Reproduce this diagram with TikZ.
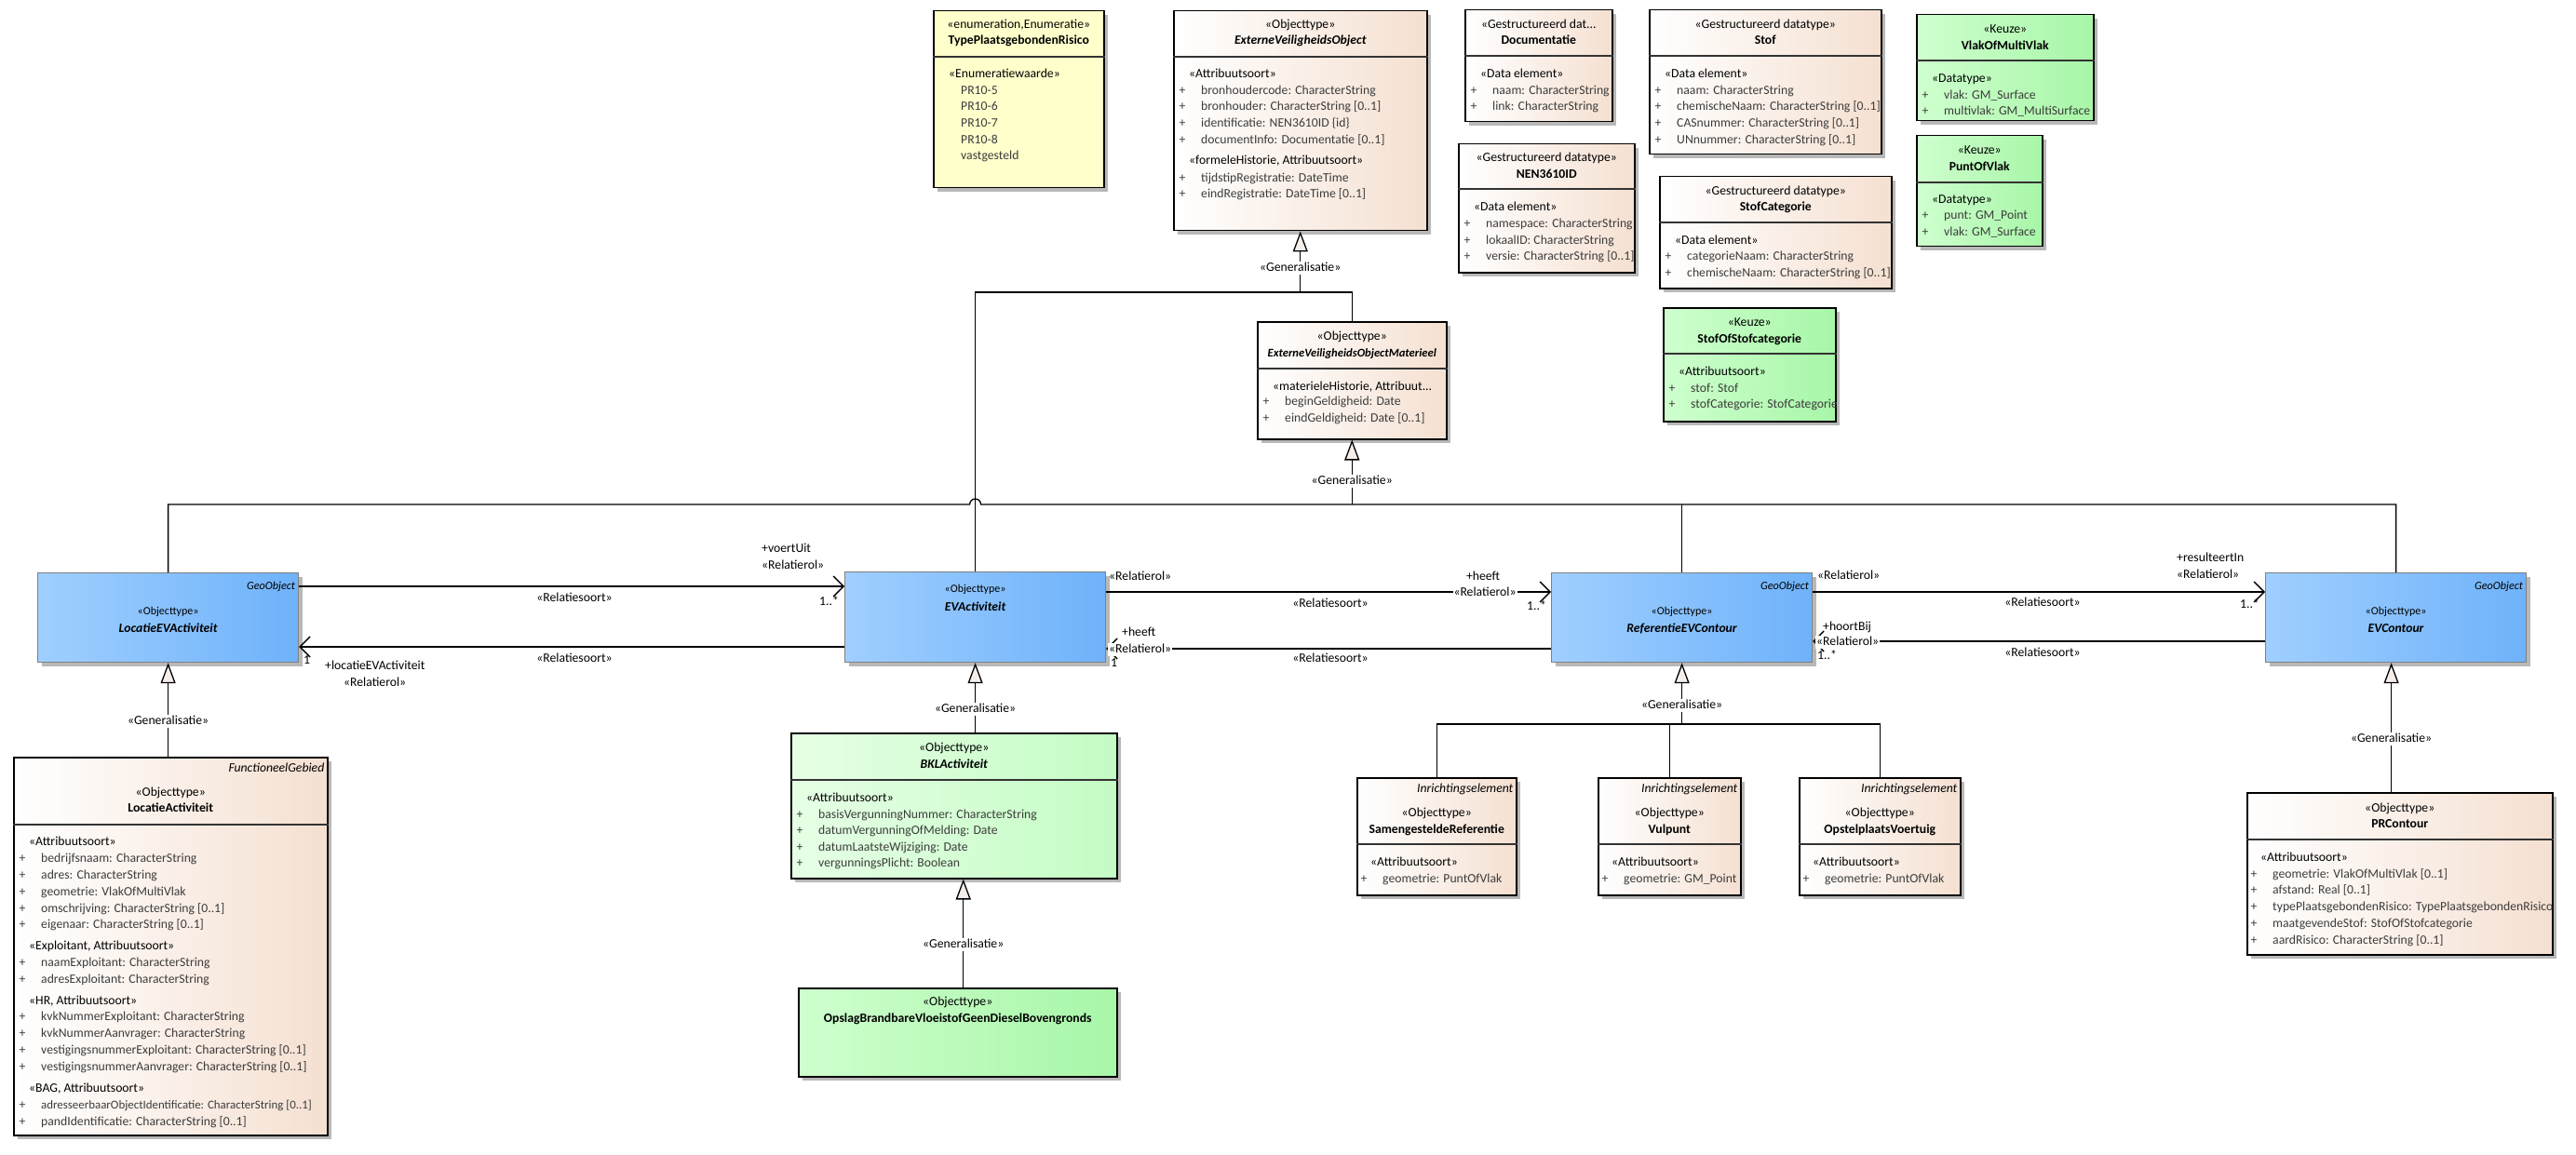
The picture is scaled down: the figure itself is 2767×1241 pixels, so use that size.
\documentclass[tikz,border=0pt]{standalone}
\usepackage{fontspec}
\setmainfont{Carlito}
\usetikzlibrary{arrows.meta,calc,shadows}
\definecolor{peach}{RGB}{245,224,209}
\definecolor{yel}{RGB}{255,255,204}
\definecolor{gL}{RGB}{206,255,206}
\definecolor{gR}{RGB}{168,246,168}
\definecolor{bgL}{RGB}{230,255,230}
\definecolor{bgR}{RGB}{196,252,196}
\definecolor{bL}{RGB}{160,207,255}
\definecolor{bR}{RGB}{110,178,250}
\definecolor{trifill}{RGB}{246,238,234}
\definecolor{attc}{RGB}{60,60,60}
\newcommand\fs{\fontsize{13.7}{16}\selectfont}
\newcommand\fsb{\fontsize{12}{14}\selectfont}
\newcommand\fsn{\fontsize{13.7}{16}\selectfont}
\tikzset{
 base/.style={draw=black, line width=1.5pt, inner sep=0pt, drop shadow={shadow xshift=4pt, shadow yshift=-4pt, fill=black!28, opacity=1}},
 beige/.style={base, left color=white, right color=peach},
 yellowbox/.style={base, fill=yel},
 greenbox/.style={base, left color=gL, right color=gR},
 lgreenbox/.style={base, left color=bgL, right color=bgR},
 bluebox/.style={base, draw=black!50, line width=1.2pt, left color=bL, right color=bR},
 tx/.style={inner sep=0pt, text height=9.5pt, text depth=2.5pt, font=\fs},
 txb/.style={tx, font=\fsb},
 nm/.style={tx, font=\fs\bfseries},
 nmi/.style={tx, font=\fs\bfseries\itshape},
 nmb/.style={tx, font=\fsn\bfseries\itshape},
 geo/.style={tx, font=\fontsize{12.2}{14}\selectfont\itshape, anchor=east},
 inr/.style={tx, font=\fs\itshape, anchor=east},
 atr/.style={tx, text=attc, anchor=west},
 sst/.style={tx, anchor=west},
 hl/.style={line width=1.2pt, draw=black!80},
 conn/.style={line width=1.3pt},
 gen/.style={conn, -{Triangle[length=22pt,width=16pt,fill=trifill]}},
 nav/.style={conn, -{Straight Barb[length=11pt,width=22pt]}},
 wl/.style={tx, fill=white, inner sep=1pt},
 lw/.style={tx, anchor=west},
}
\newcommand\umlbox[6]{\node[#2, minimum width=#5pt, minimum height=#6pt, anchor=north west] (#1) at (#3,#4) {};}
\newcommand\umlhl[2]{\draw[hl] (#1.west |- 0,#2) -- (#1.east |- 0,#2);}
\newcommand\umlattr[3]{\node[tx,text=attc] at (#1+10,#2) {+}; \node[atr] at (#1+30,#2) {#3};}
\newcommand\umlsec[3]{\node[sst] at (#1+17,#2) {#3};}
\begin{document}
\begin{tikzpicture}[x=1pt,y=-1pt]
\fill[white] (0,0) rectangle (2767,1241);
\useasboundingbox (0,0) rectangle (2767,1241);

% ---------- TypePlaatsgebondenRisico
\umlbox{tpr}{yellowbox}{1002}{11}{183}{190}
\umlhl{tpr}{61}
\node[tx] at (tpr.north |- 0,27) {«enumeration,Enumeratie»};
\node[nm] at (tpr.north |- 0,44) {TypePlaatsgebondenRisico};
\umlsec{1002}{80}{«Enumeratiewaarde»}
\node[atr] at (1032,98) {PR10-5};
\node[atr] at (1032,115) {PR10-6};
\node[atr] at (1032,133) {PR10-7};
\node[atr] at (1032,151) {PR10-8};
\node[atr] at (1032,168) {vastgesteld};

% ---------- ExterneVeiligheidsObject
\umlbox{evo}{beige}{1260}{11}{272}{236}
\umlhl{evo}{61}
\node[tx] at (evo.north |- 0,27) {«Objecttype»};
\node[nmi] at (evo.north |- 0,44) {ExterneVeiligheidsObject};
\umlsec{1260}{80}{«Attribuutsoort»}
\umlattr{1260}{98}{bronhoudercode: CharacterString}
\umlattr{1260}{115}{bronhouder: CharacterString [0..1]}
\umlattr{1260}{133}{identificatie: NEN3610ID \{id\}}
\umlattr{1260}{151}{documentInfo: Documentatie [0..1]}
\umlsec{1260}{173}{«formeleHistorie, Attribuutsoort»}
\umlattr{1260}{192}{tijdstipRegistratie: DateTime}
\umlattr{1260}{209}{eindRegistratie: DateTime [0..1]}

% ---------- Documentatie
\umlbox{doc}{beige}{1573}{10}{158}{120}
\umlhl{doc}{60}
\node[tx] at (doc.north |- 0,27) {«Gestructureerd dat...};
\node[nm] at (doc.north |- 0,44) {Documentatie};
\umlsec{1573}{80}{«Data element»}
\umlattr{1573}{98}{naam: CharacterString}
\umlattr{1573}{115}{link: CharacterString}

% ---------- Stof
\umlbox{stof}{beige}{1771}{10}{249}{155}
\umlhl{stof}{60}
\node[tx] at (stof.north |- 0,27) {«Gestructureerd datatype»};
\node[nm] at (stof.north |- 0,44) {Stof};
\umlsec{1771}{80}{«Data element»}
\umlattr{1771}{98}{naam: CharacterString}
\umlattr{1771}{115}{chemischeNaam: CharacterString [0..1]}
\umlattr{1771}{133}{CASnummer: CharacterString [0..1]}
\umlattr{1771}{151}{UNnummer: CharacterString [0..1]}

% ---------- NEN3610ID
\umlbox{nen}{beige}{1566}{154}{189}{138}
\umlhl{nen}{203}
\node[tx] at (nen.north |- 0,170) {«Gestructureerd datatype»};
\node[nm] at (nen.north |- 0,188) {NEN3610ID};
\umlsec{1566}{223}{«Data element»}
\umlattr{1566}{241}{namespace: CharacterString}
\umlattr{1566}{259}{lokaalID: CharacterString}
\umlattr{1566}{276}{versie: CharacterString [0..1]}

% ---------- StofCategorie
\umlbox{stc}{beige}{1782}{189}{249}{120}
\umlhl{stc}{239}
\node[tx] at (stc.north |- 0,206) {«Gestructureerd datatype»};
\node[nm] at (stc.north |- 0,223) {StofCategorie};
\umlsec{1782}{259}{«Data element»}
\umlattr{1782}{276}{categorieNaam: CharacterString}
\umlattr{1782}{294}{chemischeNaam: CharacterString [0..1]}

% ---------- VlakOfMultiVlak
\umlbox{vmv}{greenbox}{2058}{15}{190}{114}
\umlhl{vmv}{65}
\node[tx] at (vmv.north |- 0,32) {«Keuze»};
\node[nm] at (vmv.north |- 0,50) {VlakOfMultiVlak};
\umlsec{2058}{85}{«Datatype»}
\begin{scope}
\clip (vmv.north west) rectangle (vmv.south east);
\umlattr{2058}{103}{vlak: GM\_Surface}
\umlattr{2058}{120}{multivlak: GM\_MultiSurface}
\end{scope}

% ---------- PuntOfVlak
\umlbox{pov}{greenbox}{2058}{145}{135}{119}
\umlhl{pov}{196}
\node[tx] at (pov.north |- 0,162) {«Keuze»};
\node[nm] at (pov.north |- 0,180) {PuntOfVlak};
\umlsec{2058}{215}{«Datatype»}
\umlattr{2058}{232}{punt: GM\_Point}
\umlattr{2058}{250}{vlak: GM\_Surface}

% ---------- StofOfStofcategorie
\umlbox{ssc}{greenbox}{1786}{330}{185}{122}
\umlhl{ssc}{380}
\node[tx] at (ssc.north |- 0,347) {«Keuze»};
\node[nm] at (ssc.north |- 0,365) {StofOfStofcategorie};
\umlsec{1786}{400}{«Attribuutsoort»}
\begin{scope}
\clip (ssc.north west) rectangle (ssc.south east);
\umlattr{1786}{418}{stof: Stof}
\umlattr{1786}{435}{stofCategorie: StofCategorie}
\end{scope}

% ---------- ExterneVeiligheidsObjectMaterieel
\umlbox{evom}{beige}{1350}{345}{203}{126}
\umlhl{evom}{396}
\node[tx] at (evom.north |- 0,362) {«Objecttype»};
\node[tx, font=\fontsize{12.6}{14}\selectfont\bfseries\itshape] at (evom.north |- 0,380) {ExterneVeiligheidsObjectMaterieel};
\umlsec{1350}{416}{«materieleHistorie, Attribuut...}
\umlattr{1350}{432}{beginGeldigheid: Date}
\umlattr{1350}{450}{eindGeldigheid: Date [0..1]}

% ---------- blue boxes
\umlbox{lev}{bluebox}{40}{615}{280}{96}
\node[geo] at ($(lev.north east)+(-4,15)$) {GeoObject};
\node[txb] at (lev.north |- 0,657) {«Objecttype»};
\node[nmb] at (lev.north |- 0,676) {LocatieEVActiviteit};

\umlbox{eva}{bluebox}{907}{614}{280}{97}
\node[txb] at (eva.north |- 0,633) {«Objecttype»};
\node[nmb] at (eva.north |- 0,653) {EVActiviteit};

\umlbox{ref}{bluebox}{1666}{615}{280}{96}
\node[geo] at ($(ref.north east)+(-4,15)$) {GeoObject};
\node[txb] at (ref.north |- 0,657) {«Objecttype»};
\node[nmb] at (ref.north |- 0,676) {ReferentieEVContour};

\umlbox{evc}{bluebox}{2433}{615}{280}{96}
\node[geo] at ($(evc.north east)+(-4,15)$) {GeoObject};
\node[txb] at (evc.north |- 0,657) {«Objecttype»};
\node[nmb] at (evc.north |- 0,676) {EVContour};

% ---------- LocatieActiviteit
\umlbox{la}{beige}{14}{813}{337}{406}
\umlhl{la}{886}
\node[inr] at ($(la.north east)+(-4,13)$) {FunctioneelGebied};
\node[tx] at (la.north |- 0,852) {«Objecttype»};
\node[nm] at (la.north |- 0,869) {LocatieActiviteit};
\umlsec{14}{905}{«Attribuutsoort»}
\umlattr{14}{923}{bedrijfsnaam: CharacterString}
\umlattr{14}{941}{adres: CharacterString}
\umlattr{14}{959}{geometrie: VlakOfMultiVlak}
\umlattr{14}{977}{omschrijving: CharacterString [0..1]}
\umlattr{14}{994}{eigenaar: CharacterString [0..1]}
\umlsec{14}{1017}{«Exploitant, Attribuutsoort»}
\umlattr{14}{1035}{naamExploitant: CharacterString}
\umlattr{14}{1053}{adresExploitant: CharacterString}
\umlsec{14}{1076}{«HR, Attribuutsoort»}
\umlattr{14}{1093}{kvkNummerExploitant: CharacterString}
\umlattr{14}{1111}{kvkNummerAanvrager: CharacterString}
\umlattr{14}{1129}{vestigingsnummerExploitant: CharacterString [0..1]}
\umlattr{14}{1147}{vestigingsnummerAanvrager: CharacterString [0..1]}
\umlsec{14}{1170}{«BAG, Attribuutsoort»}
\node[tx,text=attc] at (24,1188) {+};
\node[atr, font=\fontsize{12.9}{15}\selectfont] at (44,1188) {adresseerbaarObjectIdentificatie: CharacterString [0..1]};
\umlattr{14}{1206}{pandIdentificatie: CharacterString [0..1]}

% ---------- BKLActiviteit
\umlbox{bkl}{lgreenbox}{849}{787}{350}{156}
\umlhl{bkl}{838}
\node[tx] at (bkl.north |- 0,804) {«Objecttype»};
\node[nmi] at (bkl.north |- 0,822) {BKLActiviteit};
\umlsec{849}{858}{«Attribuutsoort»}
\umlattr{849}{876}{basisVergunningNummer: CharacterString}
\umlattr{849}{893}{datumVergunningOfMelding: Date}
\umlattr{849}{911}{datumLaatsteWijziging: Date}
\umlattr{849}{928}{vergunningsPlicht: Boolean}

% ---------- Opslag
\umlbox{ops}{greenbox}{857}{1061}{342}{95}
\node[tx] at (ops.north |- 0,1077) {«Objecttype»};
\node[nm] at (ops.north |- 0,1095) {OpslagBrandbareVloeistofGeenDieselBovengronds};

% ---------- Inrichtingselementen
\umlbox{sam}{beige}{1457}{835}{171}{126}
\umlhl{sam}{907}
\node[inr] at ($(sam.north east)+(-4,13)$) {Inrichtingselement};
\node[tx] at (sam.north |- 0,874) {«Objecttype»};
\node[nm] at (sam.north |- 0,892) {SamengesteldeReferentie};
\umlsec{1455}{927}{«Attribuutsoort»}
\umlattr{1455}{945}{geometrie: PuntOfVlak}

\umlbox{vul}{beige}{1716}{835}{153}{126}
\umlhl{vul}{907}
\node[inr] at ($(vul.north east)+(-4,13)$) {Inrichtingselement};
\node[tx] at (vul.north |- 0,874) {«Objecttype»};
\node[nm] at (vul.north |- 0,892) {Vulpunt};
\umlsec{1714}{927}{«Attribuutsoort»}
\umlattr{1714}{945}{geometrie: GM\_Point}

\umlbox{opv}{beige}{1932}{835}{173}{126}
\umlhl{opv}{907}
\node[inr] at ($(opv.north east)+(-4,13)$) {Inrichtingselement};
\node[tx] at (opv.north |- 0,874) {«Objecttype»};
\node[nm] at (opv.north |- 0,892) {OpstelplaatsVoertuig};
\umlsec{1930}{927}{«Attribuutsoort»}
\umlattr{1930}{945}{geometrie: PuntOfVlak}

% ---------- PRContour
\umlbox{prc}{beige}{2413}{851}{328}{174}
\umlhl{prc}{902}
\node[tx] at (prc.north |- 0,869) {«Objecttype»};
\node[nm] at (prc.north |- 0,886) {PRContour};
\umlsec{2411}{922}{«Attribuutsoort»}
\begin{scope}
\clip (prc.north west) rectangle (prc.south east);
\umlattr{2411}{940}{geometrie: VlakOfMultiVlak [0..1]}
\umlattr{2411}{957}{afstand: Real [0..1]}
\umlattr{2411}{975}{typePlaatsgebondenRisico: TypePlaatsgebondenRisico}
\umlattr{2411}{993}{maatgevendeStof: StofOfStofcategorie}
\umlattr{2411}{1011}{aardRisico: CharacterString [0..1]}
\end{scope}

% ================= connectors
\coordinate (j) at (0,314);
\coordinate (t) at (0,542);
\coordinate (rb) at (0,778);
\coordinate (bklg) at ($(bkl.south)+(10,0)$);
\coordinate (evcg) at ($(evc.south)+(-5,0)$);

\draw[gen] (evo.south |- j) -- (evo.south);
\draw[conn] (eva.north) -- (eva.north |- j) -- (evom.north |- j) -- (evom.north);
\draw[gen] (evom.south |- t) -- (evom.south);
\draw[conn] (lev.north) -- (lev.north |- t) -- ($(eva.north |- t)+(-6,0)$) arc[start angle=180, end angle=360, radius=6] -- (evc.north |- t) -- (evc.north);
\draw[conn] (ref.north) -- (ref.north |- t);

\draw[gen] (lev.south |- la.north) -- (lev.south);
\draw[gen] (eva.south |- bkl.north) -- (eva.south);
\draw[gen] (bklg |- ops.north) -- (bklg);
\draw[gen] (ref.south |- rb) -- (ref.south);
\draw[conn] (sam.north) -- (sam.north |- rb) -- (opv.north |- rb) -- (opv.north);
\draw[conn] (vul.north) -- (vul.north |- rb);
\draw[gen] (evcg |- prc.north) -- (evcg);

\node[wl] at (evo.south |- 0,288) {«Generalisatie»};
\node[wl] at (evom.south |- 0,517) {«Generalisatie»};
\node[wl] at (lev.south |- 0,775) {«Generalisatie»};
\node[wl] at (eva.south |- 0,762) {«Generalisatie»};
\node[wl] at (ref.south |- 0,758) {«Generalisatie»};
\node[wl] at (bklg |- 0,1015) {«Generalisatie»};
\node[wl] at (evcg |- 0,794) {«Generalisatie»};

% associations
\draw[nav] ($(lev.north east)+(0,15)$) -- ($(eva.north west)+(0,16)$);
\draw[nav] ($(eva.north west)+(0,81)$) -- ($(lev.north east)+(0,80)$);
\draw[nav] ($(eva.north east)+(0,22)$) -- ($(ref.north west)+(0,21)$);
\draw[nav] ($(ref.north west)+(0,82)$) -- ($(eva.north east)+(0,83)$);
\draw[nav] ($(ref.north east)+(0,21)$) -- ($(evc.north west)+(0,21)$);
\draw[nav] ($(evc.north west)+(0,74)$) -- ($(ref.north east)+(0,74)$);

% LEV <-> EVA labels
\node[lw] at (818,590) {+voertUit};
\node[lw] at (818,608) {«Relatierol»};
\node[lw] at (880,647) {1..*};
\node[tx] at (617,643) {«Relatiesoort»};
\node[lw] at (326,710) {1};
\node[lw] at (349,716) {+locatieEVActiviteit};
\node[lw] at (369,734) {«Relatierol»};
\node[tx] at (617,708) {«Relatiesoort»};

% EVA <-> REF labels
\node[lw] at (1191,620) {«Relatierol»};
\node[tx] at (1593,620) {+heeft};
\node[wl] at (1595,637) {«Relatierol»};
\node[lw] at (1640,652) {1..*};
\node[tx] at (1429,649) {«Relatiesoort»};
\node[lw] at (1205,680) {+heeft};
\node[wl, anchor=west] at (1190,698) {«Relatierol»};
\node[lw] at (1193,713) {1};
\node[tx] at (1429,708) {«Relatiesoort»};

% REF <-> EVC labels
\node[lw] at (1952,619) {«Relatierol»};
\node[lw] at (2338,600) {+resulteertIn};
\node[lw] at (2338,618) {«Relatierol»};
\node[lw] at (2406,650) {1..*};
\node[tx] at (2194,648) {«Relatiesoort»};
\node[lw] at (1958,674) {+hoortBij};
\node[wl, anchor=west] at (1950,690) {«Relatierol»};
\node[lw] at (1952,705) {1..*};
\node[tx] at (2194,702) {«Relatiesoort»};
\end{tikzpicture}
\end{document}
